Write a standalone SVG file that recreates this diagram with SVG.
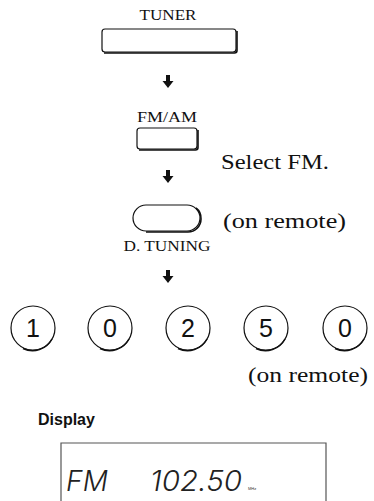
<svg xmlns="http://www.w3.org/2000/svg" width="374" height="501" viewBox="0 0 374 501">
<defs>
<style>
.lbl{font-family:"Liberation Serif","Times New Roman",serif;font-size:14px;fill:#111;text-anchor:middle}
.big{font-family:"Liberation Serif","Times New Roman",serif;font-size:22px;fill:#111}
.btn{fill:#fff;stroke:#111;stroke-width:1.2}
.sh{fill:none;stroke:#111;stroke-width:1.6}
.dig{font-family:"Liberation Sans",Arial,sans-serif;font-size:25px;fill:#111;text-anchor:middle}
.lcd{font-family:Inter,"DejaVu Sans",sans-serif;font-weight:300;font-style:italic;font-size:28px;fill:#222}
</style>
<g id="arrow"><rect x="-2" y="0" width="4" height="6.5" fill="#111"/><polygon points="-5.5,6 5.5,6 0,13" fill="#111"/></g>
</defs>
<rect width="374" height="501" fill="#fff"/>
<g id="tuner">
<text class="lbl" x="168" y="20" textLength="57" lengthAdjust="spacingAndGlyphs">TUNER</text>
<rect class="btn" x="102" y="29" width="134" height="23" rx="3"/>
<path class="sh" d="M104,53 H234.5 Q237,53 237,50.5 V31"/>
</g>
<g id="fmam">
<text class="lbl" x="167" y="122" textLength="60" lengthAdjust="spacingAndGlyphs">FM/AM</text>
<rect class="btn" x="137" y="128" width="60" height="21" rx="3"/>
<path class="sh" d="M139,150 H195.5 Q198,150 198,147.5 V130"/>
<text class="big" x="221" y="169" textLength="108" lengthAdjust="spacingAndGlyphs">Select FM.</text>
</g>
<g id="dtuning">
<rect class="btn" x="133" y="205" width="67" height="26" rx="13"/>
<path class="sh" d="M146,232 H188 A13,13 0 0 0 201,219 A13,13 0 0 0 196,208"/>
<text class="big" x="223" y="228" textLength="123" lengthAdjust="spacingAndGlyphs">(on remote)</text>
<text class="lbl" x="167" y="251" textLength="87" lengthAdjust="spacingAndGlyphs">D. TUNING</text>
</g>
<g id="connectors">
<use href="#arrow" x="168" y="75"/>
<use href="#arrow" x="168" y="170"/>
<use href="#arrow" x="168" y="270"/>
</g>
<g id="digits">
<g id="d1"><circle class="btn" cx="33" cy="328" r="22"/><path class="sh" d="M52,339 A22,22 0 0 1 23,348.5"/><text class="dig" x="33" y="337">1</text></g>
<g id="d2"><circle class="btn" cx="110" cy="328" r="22"/><path class="sh" d="M129,339 A22,22 0 0 1 100,348.5"/><text class="dig" x="110" y="337">0</text></g>
<g id="d3"><circle class="btn" cx="188" cy="328" r="22"/><path class="sh" d="M207,339 A22,22 0 0 1 178,348.5"/><text class="dig" x="188" y="337">2</text></g>
<g id="d4"><circle class="btn" cx="266" cy="328" r="22"/><path class="sh" d="M285,339 A22,22 0 0 1 256,348.5"/><text class="dig" x="266" y="337">5</text></g>
<g id="d5"><circle class="btn" cx="345" cy="328" r="22"/><path class="sh" d="M364,339 A22,22 0 0 1 335,348.5"/><text class="dig" x="345" y="337">0</text></g>
<text class="big" x="248" y="382" textLength="120" lengthAdjust="spacingAndGlyphs">(on remote)</text>
</g>
<g id="display">
<text x="38" y="425" font-family="Liberation Sans,Arial,sans-serif" font-weight="bold" font-size="16" fill="#111">Display</text>
<path d="M61,501 V443 H326 V501" fill="none" stroke="#555" stroke-width="1.2"/>
<text class="lcd" x="66" y="491" textLength="42" lengthAdjust="spacing">FM</text>
<text class="lcd" x="150" y="491" textLength="92" lengthAdjust="spacingAndGlyphs">102.50</text>
<text x="248" y="490" font-family="Liberation Sans,Arial,sans-serif" font-size="4" fill="#333">MHz</text>
</g>
</svg>
